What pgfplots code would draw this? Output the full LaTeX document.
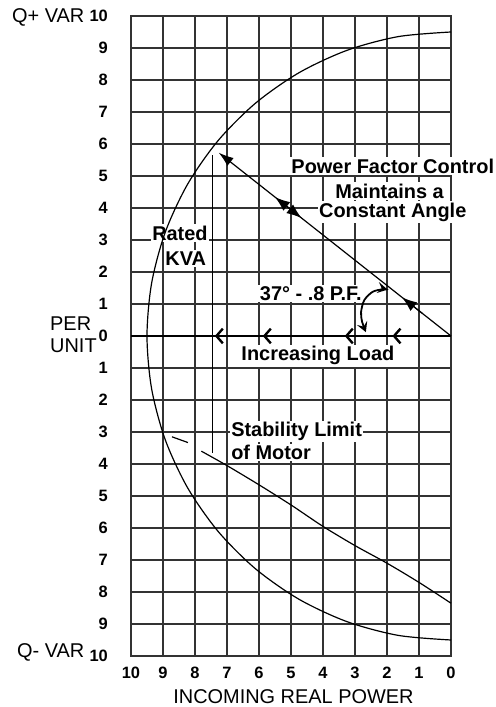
\documentclass[border=0pt]{standalone}
\usepackage{fontspec}
\setmainfont{Liberation Sans}
\usepackage{pgfplots}
\pgfplotsset{compat=1.18}
\usetikzlibrary{arrows.meta}

\begin{document}
\begin{tikzpicture}
\useasboundingbox (0,0) rectangle (496bp,707bp);
\tikzset{lbl/.style={font=\bfseries\fontsize{20}{22}\selectfont, fill=white, inner sep=1.5bp, anchor=base}}
\begin{axis}[
  at={(131bp,51bp)}, anchor=south west,
  width=320bp, height=640bp, scale only axis,
  xmin=0, xmax=10, ymin=-10, ymax=10,
  x dir=reverse,
  xtick={0,1,2,3,4,5,6,7,8,9,10},
  xticklabels={0,1,2,3,4,5,6,7,8,9,10},
  ytick={-10,-9,-8,-7,-6,-5,-4,-3,-2,-1,0,1,2,3,4,5,6,7,8,9,10},
  yticklabels={10,9,8,7,6,5,4,3,2,1,0,1,2,3,4,5,6,7,8,9,10},
  grid=major,
  major grid style={line width=2bp, color=black!80},
  axis line style={line width=2bp, color=black!80},
  major tick length=0pt,
  tick label style={font=\bfseries\fontsize{16.5}{16.5}\selectfont},
  yticklabel style={anchor=east, inner sep=0pt, xshift=-23bp},
  xticklabel style={anchor=north, inner sep=0pt, yshift=-11bp},
  clip=false,
]
% labels with white background knocking out the grid
\node[lbl] at (axis cs:1.82,5.08) {Power Factor Control};
\node[lbl] at (axis cs:1.92,4.30) {Maintains a};
\node[lbl] at (axis cs:1.82,3.71) {Constant Angle};
\node[lbl] at (axis cs:8.47,2.99) {Rated};
\node[lbl] at (axis cs:8.29,2.21) {KVA};
\node[lbl] at (axis cs:4.38,1.12) {37° - .8 P.F.};
\node[lbl] at (axis cs:4.16,-0.78) {Increasing Load};
\node[lbl, anchor=base west] at (axis cs:6.92,-3.15) {Stability Limit};
\node[lbl, anchor=base west] at (axis cs:6.92,-3.86) {of Motor};

% y = 0 line
\addplot[line width=2bp, black] coordinates {(0,0) (10,0)};

% Rated KVA circle (radius 9.5)
\addplot[line width=1.2pt, black, smooth] coordinates {
(0,9.5) (1.6497,9.3557) (3.2492,8.9271) (4.75,8.2272) (6.1065,7.2774)
(7.2774,6.1065) (8.2272,4.75) (8.9271,3.2492) (9.3557,1.6497) (9.5,0)
(9.3557,-1.6497) (8.9271,-3.2492) (8.2272,-4.75) (7.2774,-6.1065)
(6.1065,-7.2774) (4.75,-8.2272) (3.2492,-8.9271) (1.6497,-9.3557) (0,-9.5)};

% Stability limit of motor
\addplot[line width=1.2pt, black, smooth] coordinates {
(7.8,-3.6) (7,-4.05) (6,-4.65) (5,-5.28) (4,-5.95) (3,-6.55) (2,-7.1) (1,-7.7) (0,-8.35)};
\addplot[line width=1.2pt, black] coordinates {(8.72,-3.15) (8.22,-3.33)};

% vertical line from rated point
\addplot[line width=1.2pt, black] coordinates {(7.46,5.65) (7.46,-3.65)};

% power factor line
\addplot[line width=1.2pt, black, -{Latex[length=15bp,width=10bp]}] coordinates {(0,0) (7.26,5.73)};
\addplot[line width=1.2pt, black, -{Latex[length=15bp,width=11bp]}] coordinates {(4.9,3.867) (5.5,4.34)};
\addplot[line width=1.2pt, black, -{Latex[length=15bp,width=11bp]}] coordinates {(5.3,4.18) (4.67,3.685)};
\addplot[line width=1.2pt, black, -{Latex[length=15bp,width=11bp]}] coordinates {(0.9,0.71) (1.53,1.207)};

% curved double arrow (37 deg)
\addplot[line width=1.8pt, black, smooth, {Stealth[length=10bp,width=11bp,inset=4bp]}-{Stealth[length=10bp,width=11bp,inset=4bp]}] coordinates {
(2.66,0.12) (2.78,0.45) (2.81,0.75) (2.71,1.12) (2.45,1.38) (2.14,1.46) (1.98,1.45)};

% increasing load chevrons
\addplot[line width=2.4pt, black] coordinates {(7.13,0.23) (7.33,0) (7.13,-0.23)};
\addplot[line width=2.4pt, black] coordinates {(5.63,0.23) (5.83,0) (5.63,-0.23)};
\addplot[line width=2.4pt, black] coordinates {(3.07,0.23) (3.27,0) (3.07,-0.23)};
\addplot[line width=2.4pt, black] coordinates {(1.58,0.23) (1.78,0) (1.58,-0.23)};
\end{axis}
% axis annotations
\begin{scope}[font=\fontsize{20}{22}\selectfont]
\node[anchor=base west, inner sep=0pt] at (12bp,684bp) {Q+ VAR};
\node[anchor=base west, inner sep=0pt] at (50bp,376bp) {PER};
\node[anchor=base west, inner sep=0pt] at (50bp,354bp) {UNIT};
\node[anchor=base west, inner sep=0pt] at (17bp,49bp) {Q- VAR};
\node[anchor=base, inner sep=0pt] at (293.5bp,4bp) {INCOMING REAL POWER};
\end{scope}
\end{tikzpicture}
\end{document}
